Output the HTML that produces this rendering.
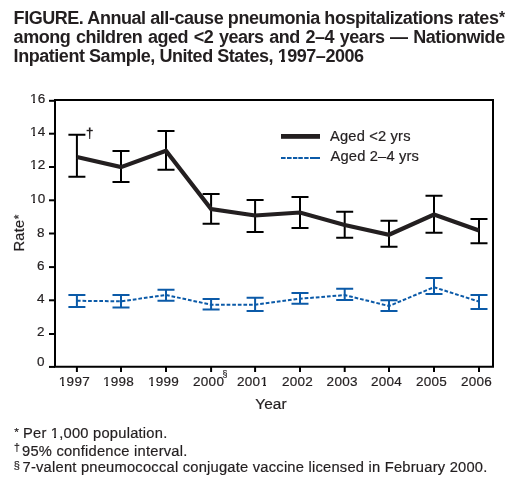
<!DOCTYPE html>
<html><head><meta charset="utf-8"><style>
html,body{margin:0;padding:0;background:#fff;width:507px;height:489px;overflow:hidden}
svg{position:absolute;left:0;top:0;will-change:transform}
text{font-family:"Liberation Sans",sans-serif;fill:#231f20;stroke:#231f20;stroke-width:0.2px}
text[font-weight="bold"]{stroke-width:0}
</style></head><body>
<svg width="507" height="489" viewBox="0 0 507 489">
<path d="M55 100 H493 V366.8 H55 Z" fill="none" stroke="#000" stroke-width="2"/>
<line x1="49" y1="366.90" x2="55" y2="366.90" stroke="#000" stroke-width="2"/>
<line x1="49" y1="334.00" x2="55" y2="334.00" stroke="#000" stroke-width="2"/>
<line x1="49" y1="300.30" x2="55" y2="300.30" stroke="#000" stroke-width="2"/>
<line x1="49" y1="267.10" x2="55" y2="267.10" stroke="#000" stroke-width="2"/>
<line x1="49" y1="233.50" x2="55" y2="233.50" stroke="#000" stroke-width="2"/>
<line x1="49" y1="200.30" x2="55" y2="200.30" stroke="#000" stroke-width="2"/>
<line x1="49" y1="167.00" x2="55" y2="167.00" stroke="#000" stroke-width="2"/>
<line x1="49" y1="133.70" x2="55" y2="133.70" stroke="#000" stroke-width="2"/>
<line x1="49" y1="100.80" x2="55" y2="100.80" stroke="#000" stroke-width="2"/>
<line x1="76.90" y1="366.8" x2="76.90" y2="372" stroke="#000" stroke-width="2"/>
<line x1="121.00" y1="366.8" x2="121.00" y2="372" stroke="#000" stroke-width="2"/>
<line x1="166.00" y1="366.8" x2="166.00" y2="372" stroke="#000" stroke-width="2"/>
<line x1="211.10" y1="366.8" x2="211.10" y2="372" stroke="#000" stroke-width="2"/>
<line x1="255.10" y1="366.8" x2="255.10" y2="372" stroke="#000" stroke-width="2"/>
<line x1="300.00" y1="366.8" x2="300.00" y2="372" stroke="#000" stroke-width="2"/>
<line x1="344.70" y1="366.8" x2="344.70" y2="372" stroke="#000" stroke-width="2"/>
<line x1="389.00" y1="366.8" x2="389.00" y2="372" stroke="#000" stroke-width="2"/>
<line x1="434.00" y1="366.8" x2="434.00" y2="372" stroke="#000" stroke-width="2"/>
<line x1="479.00" y1="366.8" x2="479.00" y2="372" stroke="#000" stroke-width="2"/>
<path d="M76.90 134.80 V176.70 M68.40 134.80 H85.40 M68.40 176.70 H85.40" fill="none" stroke="#000" stroke-width="2"/>
<path d="M121.00 151.10 V182.00 M112.50 151.10 H129.50 M112.50 182.00 H129.50" fill="none" stroke="#000" stroke-width="2"/>
<path d="M166.00 130.90 V169.70 M157.50 130.90 H174.50 M157.50 169.70 H174.50" fill="none" stroke="#000" stroke-width="2"/>
<path d="M211.10 193.90 V223.70 M202.60 193.90 H219.60 M202.60 223.70 H219.60" fill="none" stroke="#000" stroke-width="2"/>
<path d="M255.10 199.90 V232.10 M246.60 199.90 H263.60 M246.60 232.10 H263.60" fill="none" stroke="#000" stroke-width="2"/>
<path d="M300.00 197.10 V228.00 M291.50 197.10 H308.50 M291.50 228.00 H308.50" fill="none" stroke="#000" stroke-width="2"/>
<path d="M344.70 211.70 V237.70 M336.20 211.70 H353.20 M336.20 237.70 H353.20" fill="none" stroke="#000" stroke-width="2"/>
<path d="M389.00 220.80 V246.70 M380.50 220.80 H397.50 M380.50 246.70 H397.50" fill="none" stroke="#000" stroke-width="2"/>
<path d="M434.00 195.80 V232.70 M425.50 195.80 H442.50 M425.50 232.70 H442.50" fill="none" stroke="#000" stroke-width="2"/>
<path d="M479.00 219.10 V243.20 M470.50 219.10 H487.50 M470.50 243.20 H487.50" fill="none" stroke="#000" stroke-width="2"/>
<polyline points="76.90,157.00 121.00,167.10 166.00,150.70 211.10,209.00 255.10,215.50 300.00,212.50 344.70,225.00 389.00,234.70 434.00,214.60 479.00,230.50" fill="none" stroke="#231f20" stroke-width="4.2" stroke-linejoin="miter"/>
<path d="M76.90 294.90 V306.90 M68.40 294.90 H85.40 M68.40 306.90 H85.40" fill="none" stroke="#0b5aa8" stroke-width="2"/>
<path d="M121.00 294.90 V307.40 M112.50 294.90 H129.50 M112.50 307.40 H129.50" fill="none" stroke="#0b5aa8" stroke-width="2"/>
<path d="M166.00 289.70 V300.70 M157.50 289.70 H174.50 M157.50 300.70 H174.50" fill="none" stroke="#0b5aa8" stroke-width="2"/>
<path d="M211.10 299.10 V309.60 M202.60 299.10 H219.60 M202.60 309.60 H219.60" fill="none" stroke="#0b5aa8" stroke-width="2"/>
<path d="M255.10 297.80 V311.10 M246.60 297.80 H263.60 M246.60 311.10 H263.60" fill="none" stroke="#0b5aa8" stroke-width="2"/>
<path d="M300.00 293.10 V303.80 M291.50 293.10 H308.50 M291.50 303.80 H308.50" fill="none" stroke="#0b5aa8" stroke-width="2"/>
<path d="M344.70 288.80 V300.00 M336.20 288.80 H353.20 M336.20 300.00 H353.20" fill="none" stroke="#0b5aa8" stroke-width="2"/>
<path d="M389.00 300.30 V311.10 M380.50 300.30 H397.50 M380.50 311.10 H397.50" fill="none" stroke="#0b5aa8" stroke-width="2"/>
<path d="M434.00 277.90 V294.10 M425.50 277.90 H442.50 M425.50 294.10 H442.50" fill="none" stroke="#0b5aa8" stroke-width="2"/>
<path d="M479.00 295.00 V309.00 M470.50 295.00 H487.50 M470.50 309.00 H487.50" fill="none" stroke="#0b5aa8" stroke-width="2"/>
<polyline points="76.90,300.80 121.00,301.30 166.00,295.00 211.10,304.70 255.10,304.70 300.00,298.70 344.70,295.10 389.00,306.00 434.00,287.20 479.00,301.60" fill="none" stroke="#0b5aa8" stroke-width="2" stroke-dasharray="3.7 1.9"/>
<rect x="281" y="134" width="39" height="4.8" fill="#231f20"/>
<rect x="281.0" y="157" width="4.6" height="2" fill="#0b5aa8"/>
<rect x="287.0" y="157" width="4.6" height="2" fill="#0b5aa8"/>
<rect x="293.0" y="157" width="4.3" height="2" fill="#0b5aa8"/>
<rect x="298.3" y="157" width="4.5" height="2" fill="#0b5aa8"/>
<rect x="304.2" y="157" width="4.4" height="2" fill="#0b5aa8"/>
<rect x="310.0" y="157" width="10.0" height="2" fill="#0b5aa8"/>
<path d="M88.85 127.4 H90.55 L90.2 138.9 H89.2 Z" fill="#231f20"/><rect x="86.6" y="129.85" width="6.2" height="1.35" fill="#231f20"/>
<text x="13.60" y="23.80" font-size="18" letter-spacing="-0.455" word-spacing="0.08" font-weight="bold" text-anchor="start" >FIGURE. Annual all-cause pneumonia hospitalizations rates<tspan font-size="15.6" dy="-0.6" dx="0.4">*</tspan></text>
<text x="13.60" y="42.80" font-size="18" letter-spacing="-0.455" word-spacing="1.05" font-weight="bold" text-anchor="start" >among children aged &lt;2 years and 2–4 years — Nationwide</text>
<text x="13.60" y="61.80" font-size="18" letter-spacing="-0.455" word-spacing="0" font-weight="bold" text-anchor="start" >Inpatient Sample, United States, 1997–2006</text>
<text x="44.80" y="366.40" font-size="13.5" letter-spacing="0.2" word-spacing="0" font-weight="normal" text-anchor="end" >0</text>
<text x="44.80" y="336.35" font-size="13.5" letter-spacing="0.2" word-spacing="0" font-weight="normal" text-anchor="end" >2</text>
<text x="44.80" y="303.45" font-size="13.5" letter-spacing="0.2" word-spacing="0" font-weight="normal" text-anchor="end" >4</text>
<text x="44.80" y="269.60" font-size="13.5" letter-spacing="0.2" word-spacing="0" font-weight="normal" text-anchor="end" >6</text>
<text x="44.80" y="236.50" font-size="13.5" letter-spacing="0.2" word-spacing="0" font-weight="normal" text-anchor="end" >8</text>
<text x="45.50" y="203.40" font-size="13.5" letter-spacing="0.2" word-spacing="0" font-weight="normal" text-anchor="end" >10</text>
<text x="45.50" y="169.35" font-size="13.5" letter-spacing="0.2" word-spacing="0" font-weight="normal" text-anchor="end" >12</text>
<text x="45.50" y="136.35" font-size="13.5" letter-spacing="0.2" word-spacing="0" font-weight="normal" text-anchor="end" >14</text>
<text x="45.50" y="102.50" font-size="13.5" letter-spacing="0.2" word-spacing="0" font-weight="normal" text-anchor="end" >16</text>
<text x="74.40" y="385.80" font-size="13.5" letter-spacing="0.3" word-spacing="0" font-weight="normal" text-anchor="middle" >1997</text>
<text x="118.50" y="385.80" font-size="13.5" letter-spacing="0.3" word-spacing="0" font-weight="normal" text-anchor="middle" >1998</text>
<text x="163.50" y="385.80" font-size="13.5" letter-spacing="0.3" word-spacing="0" font-weight="normal" text-anchor="middle" >1999</text>
<text x="208.60" y="385.80" font-size="13.5" letter-spacing="0.3" word-spacing="0" font-weight="normal" text-anchor="middle" >2000</text>
<text x="252.60" y="385.80" font-size="13.5" letter-spacing="0.3" word-spacing="0" font-weight="normal" text-anchor="middle" >2001</text>
<text x="297.50" y="385.80" font-size="13.5" letter-spacing="0.3" word-spacing="0" font-weight="normal" text-anchor="middle" >2002</text>
<text x="342.20" y="385.80" font-size="13.5" letter-spacing="0.3" word-spacing="0" font-weight="normal" text-anchor="middle" >2003</text>
<text x="386.50" y="385.80" font-size="13.5" letter-spacing="0.3" word-spacing="0" font-weight="normal" text-anchor="middle" >2004</text>
<text x="431.50" y="385.80" font-size="13.5" letter-spacing="0.3" word-spacing="0" font-weight="normal" text-anchor="middle" >2005</text>
<text x="476.50" y="385.80" font-size="13.5" letter-spacing="0.3" word-spacing="0" font-weight="normal" text-anchor="middle" >2006</text>
<text x="222.50" y="377.10" font-size="8.8" letter-spacing="0" word-spacing="0" font-weight="normal" text-anchor="start" >§</text>
<text x="271.00" y="408.70" font-size="15.4" letter-spacing="0.15" word-spacing="0" font-weight="normal" text-anchor="middle" >Year</text>
<text transform="translate(23.5,251.5) rotate(-90)" font-size="14.7" letter-spacing="0.25">Rate</text>
<text transform="translate(23.5,251.5) rotate(-90)" x="32.2" y="-1.0" font-size="12">*</text>
<text x="330.00" y="140.80" font-size="14.7" letter-spacing="0.17" word-spacing="0" font-weight="normal" text-anchor="start" >Aged &lt;2 yrs</text>
<text x="330.50" y="160.90" font-size="14.7" letter-spacing="0.17" word-spacing="0" font-weight="normal" text-anchor="start" >Aged 2–4 yrs</text>
<text x="14.30" y="435.90" font-size="11.8" letter-spacing="0" word-spacing="0" font-weight="normal" text-anchor="start" stroke-width="0.35">*</text>
<text x="23.00" y="437.60" font-size="14.7" letter-spacing="0.23" word-spacing="0" font-weight="normal" text-anchor="start" >Per 1,000 population.</text>
<text x="14.00" y="451.00" font-size="10.5" letter-spacing="0" word-spacing="0" font-weight="normal" text-anchor="start" stroke="#231f20" stroke-width="0.3">†</text>
<text x="22.00" y="455.50" font-size="14.7" letter-spacing="0.23" word-spacing="0" font-weight="normal" text-anchor="start" >95% confidence interval.</text>
<text x="13.80" y="468.60" font-size="11" letter-spacing="0" word-spacing="0" font-weight="normal" text-anchor="start" >§</text>
<text x="22.50" y="472.00" font-size="14.7" letter-spacing="0.23" word-spacing="0" font-weight="normal" text-anchor="start" >7-valent pneumococcal conjugate vaccine licensed in February 2000.</text>
<rect x="278" y="60" width="1" height="1" fill="#fff"/>
<rect x="279" y="60" width="1" height="1" fill="#fff"/>
<rect x="280" y="60" width="1" height="1" fill="#fff"/>
<rect x="285" y="60" width="1" height="1" fill="#fff"/>
<rect x="286" y="60" width="1" height="1" fill="#fff"/>
<rect x="287" y="60" width="1" height="1" fill="#fff"/>
<rect x="278" y="61" width="1" height="1" fill="#fff"/>
<rect x="279" y="61" width="1" height="1" fill="#fff"/>
<rect x="280" y="61" width="1" height="1" fill="#fff"/>
<rect x="285" y="61" width="1" height="1" fill="#fff"/>
<rect x="286" y="61" width="1" height="1" fill="#fff"/>
<rect x="287" y="61" width="1" height="1" fill="#fff"/>
<rect x="30" y="202" width="1" height="1" fill="#fff"/>
<rect x="31" y="202" width="1" height="1" fill="#fff"/>
<rect x="32" y="202" width="1" height="1" fill="#fff"/>
<rect x="35" y="202" width="1" height="1" fill="#fff"/>
<rect x="36" y="202" width="1" height="1" fill="#fff"/>
<rect x="30" y="168" width="1" height="1" fill="#fff"/>
<rect x="31" y="168" width="1" height="1" fill="#fff"/>
<rect x="32" y="168" width="1" height="1" fill="#fff"/>
<rect x="35" y="168" width="1" height="1" fill="#fff"/>
<rect x="36" y="168" width="1" height="1" fill="#fff"/>
<rect x="30" y="135" width="1" height="1" fill="#fff"/>
<rect x="31" y="135" width="1" height="1" fill="#fff"/>
<rect x="32" y="135" width="1" height="1" fill="#fff"/>
<rect x="35" y="135" width="1" height="1" fill="#fff"/>
<rect x="36" y="135" width="1" height="1" fill="#fff"/>
<rect x="30" y="102" width="1" height="1" fill="#fff"/>
<rect x="31" y="102" width="1" height="1" fill="#fff"/>
<rect x="32" y="102" width="1" height="1" fill="#fff"/>
<rect x="35" y="102" width="1" height="1" fill="#fff"/>
<rect x="36" y="102" width="1" height="1" fill="#fff"/>
<rect x="59" y="385" width="1" height="1" fill="#fff"/>
<rect x="60" y="385" width="1" height="1" fill="#fff"/>
<rect x="61" y="385" width="1" height="1" fill="#fff"/>
<rect x="64" y="385" width="1" height="1" fill="#fff"/>
<rect x="65" y="385" width="1" height="1" fill="#fff"/>
<rect x="103" y="385" width="1" height="1" fill="#fff"/>
<rect x="104" y="385" width="1" height="1" fill="#fff"/>
<rect x="105" y="385" width="1" height="1" fill="#fff"/>
<rect x="108" y="385" width="1" height="1" fill="#fff"/>
<rect x="109" y="385" width="1" height="1" fill="#fff"/>
<rect x="148" y="385" width="1" height="1" fill="#fff"/>
<rect x="149" y="385" width="1" height="1" fill="#fff"/>
<rect x="150" y="385" width="1" height="1" fill="#fff"/>
<rect x="153" y="385" width="1" height="1" fill="#fff"/>
<rect x="154" y="385" width="1" height="1" fill="#fff"/>
<rect x="261" y="385" width="1" height="1" fill="#fff"/>
<rect x="262" y="385" width="1" height="1" fill="#fff"/>
<rect x="266" y="385" width="1" height="1" fill="#fff"/>
<rect x="267" y="385" width="1" height="1" fill="#fff"/>
<rect x="51" y="436" width="1" height="1" fill="#fff"/>
<rect x="52" y="436" width="1" height="1" fill="#fff"/>
<rect x="53" y="436" width="1" height="1" fill="#fff"/>
<rect x="56" y="436" width="1" height="1" fill="#fff"/>
<rect x="57" y="436" width="1" height="1" fill="#fff"/>
<rect x="58" y="436" width="1" height="1" fill="#fff"/>
<rect x="51" y="437" width="1" height="1" fill="#fff"/>
<rect x="52" y="437" width="1" height="1" fill="#fff"/>
<rect x="53" y="437" width="1" height="1" fill="#fff"/>
<rect x="56" y="437" width="1" height="1" fill="#fff"/>
<rect x="57" y="437" width="1" height="1" fill="#fff"/>
<rect x="58" y="437" width="1" height="1" fill="#fff"/>
</svg>
</body></html>
